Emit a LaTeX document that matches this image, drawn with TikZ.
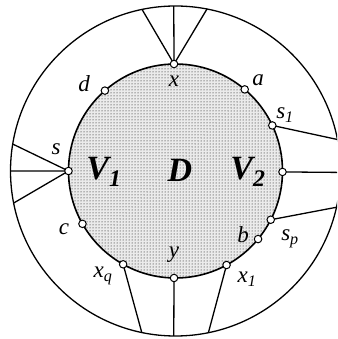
\documentclass[tikz,border=0pt]{standalone}
\usepackage{fontspec}
\setmainfont{Liberation Serif}
\usetikzlibrary{calc,patterns}
\begin{document}
\begin{tikzpicture}[x=1pt,y=1pt,
  vtx/.style={circle,draw=black,fill=white,line width=1pt,inner sep=0pt,minimum size=7.5pt},
  conn/.style={line width=1.3pt},
  lbl/.style={font=\fontsize{23}{23}\selectfont\itshape,inner sep=0pt},
  big/.style={font=\fontsize{34}{34}\selectfont\bfseries\itshape,inner sep=0pt}]
\useasboundingbox (0,0) rectangle (337,339);
\clip (0,0) rectangle (337,339);
\coordinate (C) at (175.5,168);
% outer circle
\draw[line width=1.3pt] (C) circle (165);
% inner disk
\fill[black!8] (C) circle (107);
\fill[pattern=dots,pattern color=black] (C) circle (107);
\draw[line width=1.6pt] (C) circle (107);
% inner vertices
\foreach \n/\a in {x/90.8,d/131.3,a/49.7,sA/25.2,r/-0.5,sP/-27.1,b/-39.5,xA/-61.5,y/-90.8,xQ/-119.3,c/-150.4,s/180}
  \coordinate (p\n) at ($(C)+(\a:107)$);
% outer endpoints
\foreach \n/\a in {xl/101.7,xm/90.6,xr/79,sl/170.6,sm/180,sr/191.2,oA/11,or/-0.5,oP/-12.7,ym/-90.6,oQ/-101.8,o1/-78.5}
  \coordinate (o\n) at ($(C)+(\a:165)$);
% connectors
\draw[conn] (px) -- (oxl) (px) -- (oxm) (px) -- (oxr);
\draw[conn] (ps) -- (osl) (ps) -- (osm) (ps) -- (osr);
\draw[conn] (psA) -- (ooA);
\draw[conn] (pr) -- (oor);
\draw[conn] (psP) -- (ooP);
\draw[conn] (py) -- (oym);
\draw[conn] (pxQ) -- (ooQ);
\draw[conn] (pxA) -- (oo1);
% vertex circles
\foreach \n in {x,d,a,sA,r,sP,b,xA,y,xQ,c,s}
  \node[vtx] (v\n) at (p\n) {};
% labels
\node[lbl] (ld) at (84,255) {d};
\node[lbl] (lx) at (174,258) {x};
\node[lbl] (la) at (258,259) {a};
\node[lbl] (lsA) at (285,224) {s\textsubscript{1}};
\node[lbl] (ls) at (56,190) {s};
\node[lbl] (lc) at (64,110) {c};
\node[lbl] (lxQ) at (103,63) {x\textsubscript{q}};
\node[lbl] (ly) at (174,84) {y};
\node[lbl] (lb) at (243,104) {b};
\node[lbl] (lsP) at (290,100) {s\textsubscript{p}};
\node[lbl] (lxA) at (247,60) {x\textsubscript{1}};
\node[big] (lV1) at (104,167) {V\textsubscript{1}};
\node[big] (lD) at (180,169) {D};
\node[big] (lV2) at (248,167) {V\textsubscript{2}};
\end{tikzpicture}
\end{document}
